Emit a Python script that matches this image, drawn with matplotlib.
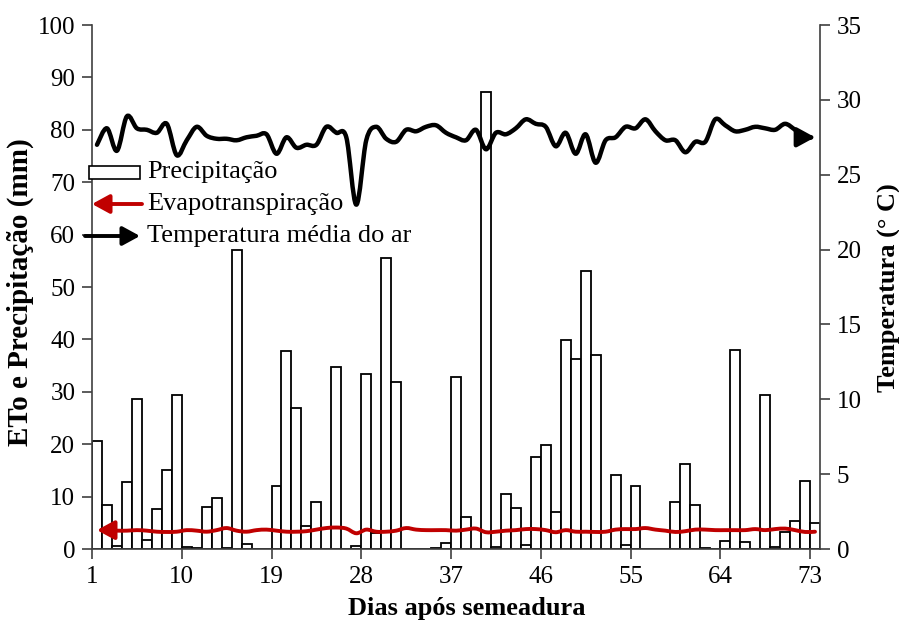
import numpy as np
import matplotlib
matplotlib.use('Agg')
import matplotlib.pyplot as plt
from matplotlib.path import Path
from matplotlib.patches import FancyArrowPatch, Rectangle

# dias após semeadura
dias = np.arange(1, 74)

# precipitação diária (mm)
precipitacao = [20.7, 8.4, 0.6, 12.8, 28.7, 1.7, 7.6, 15.0, 29.4, 0.4,
                0.2, 8.0, 9.8, 0.2, 57.0, 0.9, 0.0, 0.0, 12.0, 37.7,
                26.9, 4.4, 9.0, 0.0, 34.8, 0.0, 0.6, 33.4, 3.0, 55.6,
                31.9, 0.0, 0.0, 0.0, 0.2, 1.1, 32.9, 6.1, 0.0, 87.2,
                0.3, 10.5, 7.8, 0.8, 17.5, 19.8, 7.1, 39.9, 36.3, 53.1,
                37.0, 0.0, 14.2, 0.8, 12.0, 0.0, 0.0, 0.0, 8.9, 16.2,
                8.4, 0.2, 0.0, 1.5, 38.0, 1.3, 0.0, 29.4, 0.3, 3.2,
                5.4, 13.0, 4.9]

# evapotranspiração de referência (mm)
evapotranspiracao = [3.6, 3.6, 3.5, 3.5, 3.6, 3.5, 3.3, 3.25, 3.3, 3.6,
                     3.5, 3.3, 3.6, 4.0, 3.5, 3.3, 3.6, 3.7, 3.5, 3.3,
                     3.3, 3.4, 3.7, 4.0, 4.1, 3.9, 3.0, 3.7, 3.3, 3.3,
                     3.5, 4.0, 3.7, 3.6, 3.6, 3.6, 3.5, 3.7, 3.9, 3.2,
                     3.3, 3.5, 3.6, 3.8, 3.8, 3.6, 3.2, 3.6, 3.3, 3.3,
                     3.25, 3.3, 3.7, 3.8, 3.8, 4.0, 3.7, 3.5, 3.25, 3.4,
                     3.7, 3.7, 3.6, 3.6, 3.6, 3.6, 3.8, 3.6, 3.8, 3.9,
                     3.6, 3.25, 3.3]

# temperatura média do ar (°C)
temperatura = [27.0, 28.1, 26.6, 28.9, 28.1, 28.0, 27.8, 28.4, 26.3, 27.3,
               28.2, 27.6, 27.4, 27.4, 27.3, 27.5, 27.6, 27.7, 26.4, 27.5,
               26.8, 27.0, 27.0, 28.2, 27.8, 27.5, 23.0, 27.3, 28.2, 27.4,
               27.2, 28.0, 27.9, 28.2, 28.3, 27.8, 27.5, 27.3, 28.0, 26.7,
               27.8, 27.7, 28.1, 28.7, 28.4, 28.2, 26.9, 27.8, 26.4, 27.7,
               25.8, 27.3, 27.5, 28.2, 28.1, 28.7, 27.9, 27.3, 27.3, 26.5,
               27.2, 27.2, 28.7, 28.3, 27.9, 28.0, 28.2, 28.1, 28.0, 28.4,
               28.0, 27.5, 27.5]

ticks_dias = [1, 10, 19, 28, 37, 46, 55, 64, 73]

W, H = 899, 621
SERIF = 'Liberation Serif'
VERMELHO = '#C00000'
EIXO = '#404040'
SETA = '-|>,head_length=0.55,head_width=0.3'
SETA_INICIO = '<|-,head_length=0.55,head_width=0.3'


def curva_suave(x, y):
    """Linha suavizada (Catmull-Rom convertida em Bezier cúbica)."""
    pts = np.column_stack([x, y]).astype(float)
    ext = np.vstack([pts[0], pts, pts[-1]])
    verts = [pts[0]]
    codes = [Path.MOVETO]
    for i in range(1, len(ext) - 2):
        p0, p1, p2, p3 = ext[i - 1], ext[i], ext[i + 1], ext[i + 2]
        verts += [p1 + (p2 - p0) / 6, p2 - (p3 - p1) / 6, p2]
        codes += [Path.CURVE4] * 3
    return Path(verts, codes)


def fig_px(x, y):
    return x / W, 1 - y / H


fig = plt.figure(figsize=(W / 100, H / 100), dpi=100)
ax = fig.add_axes([92 / W, 72 / H, 728 / W, 524 / H])
ax2 = ax.twinx()

# barras de precipitação, uma por dia
ax.bar(dias, precipitacao, width=1, align='edge', color='white',
       edgecolor='black', linewidth=1.3, zorder=2)

x_linha = dias + 0.5
et = FancyArrowPatch(path=curva_suave(x_linha, evapotranspiracao),
                     arrowstyle=SETA_INICIO, mutation_scale=19,
                     color=VERMELHO, lw=2.8, joinstyle='round',
                     capstyle='round', zorder=3)
ax.add_patch(et)

temp = FancyArrowPatch(path=curva_suave(x_linha, temperatura),
                       arrowstyle=SETA, mutation_scale=19, color='black',
                       lw=3.2, joinstyle='round', capstyle='round', zorder=3)
ax2.add_patch(temp)

ax.set_xlim(1, 74)
ax.set_ylim(0, 100)
ax2.set_ylim(0, 35)
ax.set_xticks(ticks_dias)
ax.set_yticks(np.arange(0, 101, 10))
ax2.set_yticks(np.arange(0, 36, 5))

for a in (ax, ax2):
    a.spines['top'].set_visible(False)
    for s in a.spines.values():
        s.set_color(EIXO)
        s.set_linewidth(1.2)
    a.tick_params(direction='out', length=7, width=1.2, color=EIXO,
                  labelsize=18, labelfontfamily=SERIF, pad=5)
ax.spines['right'].set_visible(False)
ax2.spines['left'].set_visible(False)
ax2.spines['bottom'].set_visible(False)

ax.set_xlabel('Dias após semeadura', fontsize=19, fontweight='bold',
              family=SERIF)
ax.xaxis.set_label_coords(0.515, -0.092)
ax.set_ylabel('ETo e Precipitação (mm)', fontsize=21, fontweight='bold',
              family=SERIF)
ax.yaxis.set_label_coords(-0.079, 0.49)
ax2.set_ylabel('Temperatura (° C)', fontsize=19, fontweight='bold',
               family=SERIF)
ax2.yaxis.set_label_coords(1.079, 0.498)

# legenda desenhada à mão, com setas no lugar das linhas
x0, y0 = fig_px(89, 179)
x1, y1 = fig_px(140, 166)
fig.patches.append(Rectangle((x0, y0), x1 - x0, y1 - y0,
                             transform=fig.transFigure, facecolor='white',
                             edgecolor='black', linewidth=1.2, zorder=5))
fig.patches.append(FancyArrowPatch(fig_px(142, 204), fig_px(92, 204),
                                   transform=fig.transFigure, arrowstyle=SETA,
                                   mutation_scale=19, color=VERMELHO, lw=2.8,
                                   shrinkA=0, shrinkB=0, zorder=5))
fig.patches.append(FancyArrowPatch(fig_px(85, 236), fig_px(140, 236),
                                   transform=fig.transFigure, arrowstyle=SETA,
                                   mutation_scale=19, color='black', lw=2.8,
                                   shrinkA=0, shrinkB=0, zorder=5))
legenda = ['Precipitação', 'Evapotranspiração', 'Temperatura média do ar']
for texto, yp in zip(legenda, [172, 204, 236]):
    fig.text(*fig_px(147, yp), texto, fontsize=19, family=SERIF,
             va='center', ha='left')

fig.savefig('out.png', dpi=100)
